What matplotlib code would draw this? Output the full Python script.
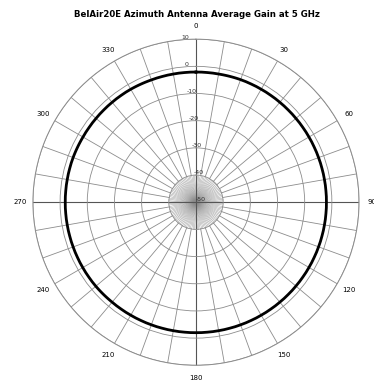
import matplotlib
matplotlib.use('Agg')
import matplotlib.pyplot as plt
import numpy as np

# average gain (dBi) every 10 degrees of azimuth
azimuth_deg = [0, 10, 20, 30, 40, 50, 60, 70, 80, 90, 100, 110,
               120, 130, 140, 150, 160, 170, 180, 190, 200, 210, 220, 230,
               240, 250, 260, 270, 280, 290, 300, 310, 320, 330, 340, 350]
gain_db = [-2.1, -2.1, -2.0, -2.0, -2.0, -2.0, -2.0, -2.0, -2.0, -2.0, -2.0, -2.0,
           -2.0, -2.0, -2.0, -2.0, -2.0, -2.0, -2.0, -2.0, -2.0, -2.0, -2.0, -1.9,
           -1.9, -1.9, -1.9, -1.9, -1.9, -1.9, -2.0, -2.0, -2.0, -2.0, -2.1, -2.1]

ring_ticks = [-50, -40, -30, -20, -10, 0, 10]
ring_labels = ['-50', '-40', '-30', '-20', '-10', '0', '10']
angle_ticks = [0, 30, 60, 90, 120, 150, 180, 210, 240, 270, 300, 330]

grid_col = '#8c8c8c'

fig = plt.figure(figsize=(3.74, 3.83), dpi=100)
ax = fig.add_axes([0.088, 0.046, 0.872, 0.852], projection='polar')
ax.set_theta_zero_location('N')
ax.set_theta_direction(-1)
ax.set_ylim(-50, 10)

# spokes every 10 degrees, from inner ring to outside
for a in range(0, 360, 10):
    ax.plot([np.radians(a)] * 2, [-40, 10], color=grid_col, lw=0.6, zorder=1)
# dense spokes inside the inner ring
for a in range(0, 360, 3):
    ax.plot([np.radians(a)] * 2, [-50, -40], color=grid_col, lw=0.3, zorder=1)
for a in [0, 90, 180, 270]:
    ax.plot([np.radians(a)] * 2, [-50, 10], color='#555555', lw=0.8, zorder=1)

ax.set_xticks(np.radians(angle_ticks))
ax.set_xticklabels([str(a) for a in angle_ticks], fontsize=5)
ax.tick_params(axis='x', pad=-1)
ax.xaxis.grid(False)
ax.set_yticks(ring_ticks)
ax.set_yticklabels(ring_labels, fontsize=4.5, color='#333333')
ax.set_rlabel_position(355)
ax.yaxis.grid(True, color=grid_col, lw=0.6)
ax.spines['polar'].set_color(grid_col)
ax.spines['polar'].set_linewidth(0.7)

# close the curve at 360 so the last segment goes the short way round
th = np.radians(azimuth_deg + [360])
g = gain_db + [gain_db[0]]
line, = ax.plot(th, g, color='black', lw=2.0, zorder=3)
line.get_path()._interpolation_steps = 10

fig.text(0.527, 0.963, 'BelAir20E Azimuth Antenna Average Gain at 5 GHz',
         ha='center', va='center', fontsize=6.2, fontweight='bold')

fig.savefig('out.png', dpi=100)
